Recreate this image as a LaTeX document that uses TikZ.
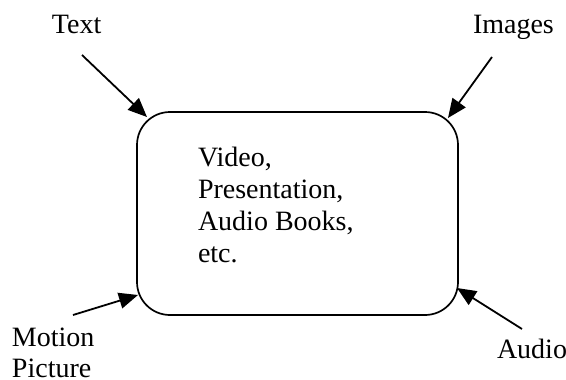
\documentclass[tikz,border=0pt]{standalone}
\usepackage{fontspec}
\setmainfont{Liberation Serif}
\usetikzlibrary{arrows.meta}
\begin{document}
\begin{tikzpicture}[x=1pt,y=-1pt,
  lbl/.style={inner sep=0pt,outer sep=0pt,font=\fontsize{28}{31}\selectfont,align=left},
  boxtxt/.style={inner sep=0pt,outer sep=0pt,font=\fontsize{28}{32}\selectfont,align=left},
  mainbox/.style={draw,line width=1.7pt,rounded corners=33pt,minimum width=321pt,minimum height=203pt,inner sep=0pt},
  arr/.style={line width=1.8pt,-{Triangle[length=19pt,width=16pt]}}]
\useasboundingbox[fill=white] (0,0) rectangle (566,380);
\node[mainbox] (box) at (297.5,213.5) {};
\node[boxtxt,anchor=base west] (content) at (198,262) {Video,\\Presentation,\\Audio Books,\\etc.};
\node[lbl,anchor=base west] (text) at (52,33) {Text};
\node[lbl,anchor=base west] (images) at (473,33) {Images};
\node[lbl,anchor=base west] (motion) at (12,377) {Motion\\Picture};
\node[lbl,anchor=base west] (audio) at (497,358) {Audio};
\coordinate (s1) at (82,55);
\coordinate (t1) at (147,117);
\coordinate (s2) at (492,57);
\coordinate (t2) at (448,118);
\coordinate (s3) at (73,315);
\coordinate (t3) at (138,295);
\coordinate (s4) at (522,329);
\coordinate (t4) at (457,288);
\draw[arr] (s1) -- (t1);
\draw[arr] (s2) -- (t2);
\draw[arr] (s3) -- (t3);
\draw[arr] (s4) -- (t4);
\end{tikzpicture}
\end{document}
